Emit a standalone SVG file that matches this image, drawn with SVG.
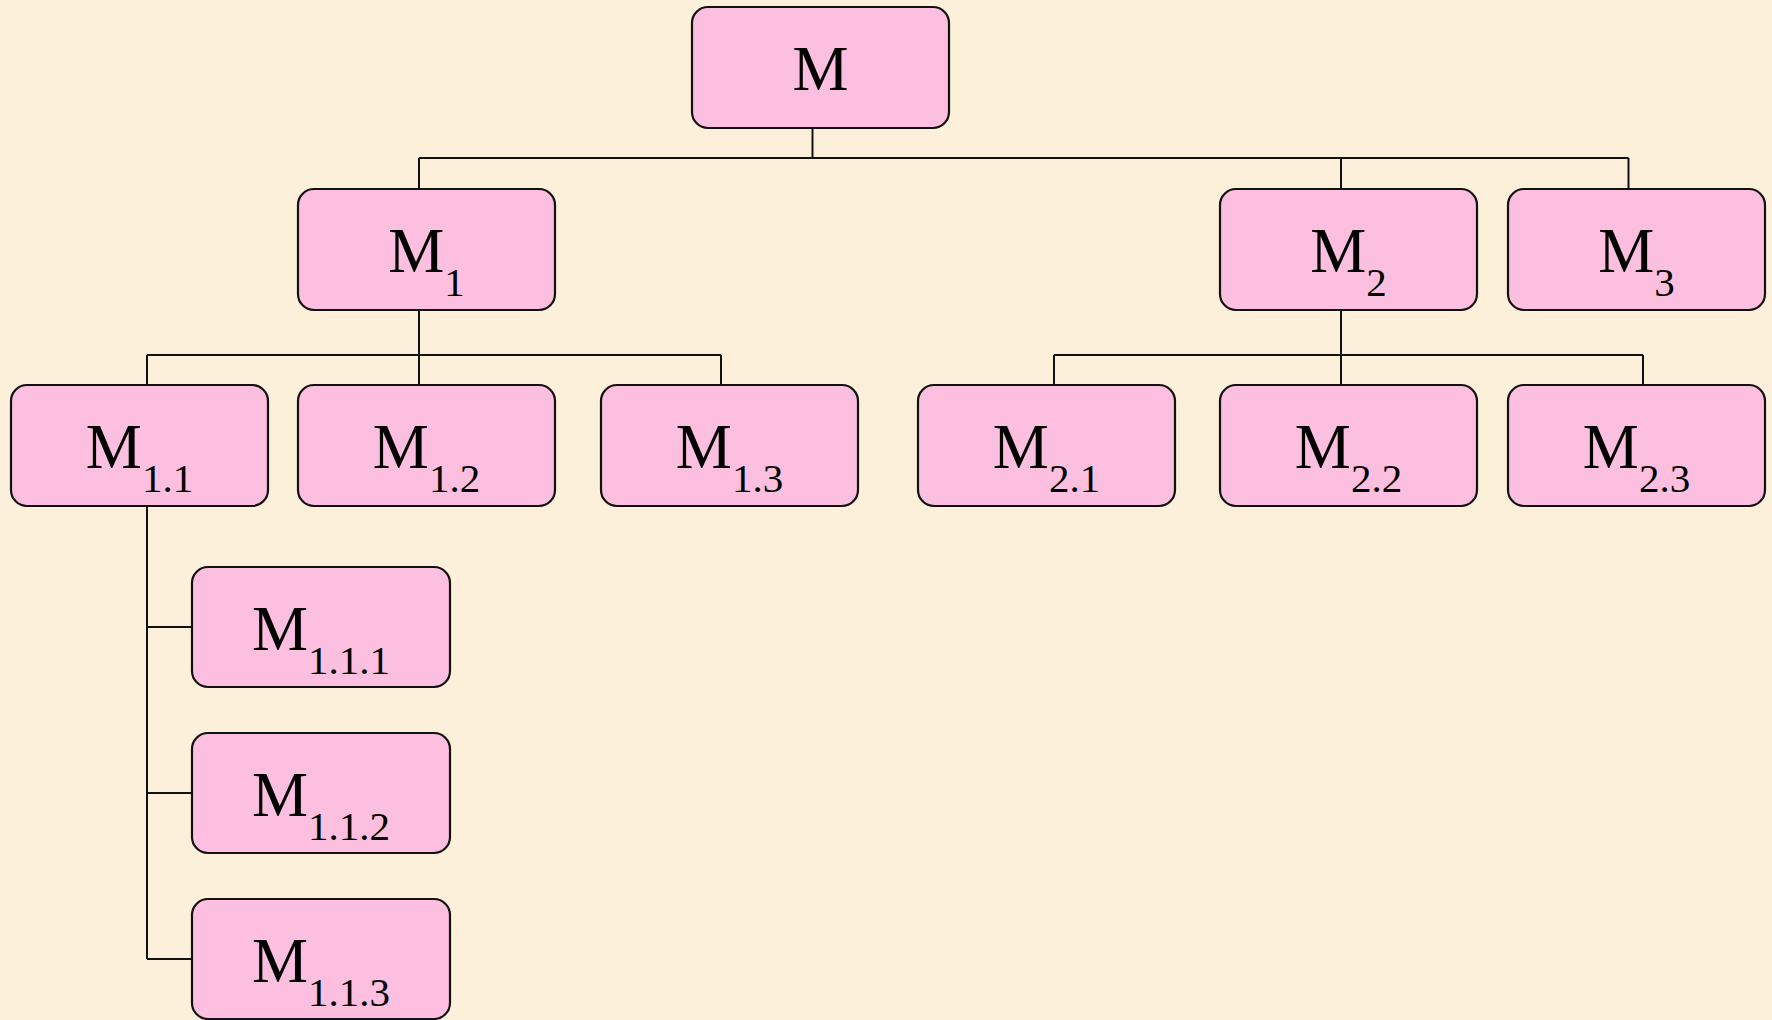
<svg xmlns="http://www.w3.org/2000/svg" width="1772" height="1020" viewBox="0 0 1772 1020">
<style>
.box{fill:#FDBFDF;stroke:#111;stroke-width:2.2}
.lbl{font-family:"Liberation Serif","Times New Roman",serif;font-size:63px;fill:#000;text-anchor:middle}
.sub{font-size:41px}
.con{fill:none;stroke:#111;stroke-width:2}
</style>
<rect width="1772" height="1020" fill="#FCF0DA"/>
<g id="connectors" class="con">
<path d="M812.5 128V158M419 158H1628.5M419 158V189M1341 158V189M1628.5 158V189"/>
<path d="M419 310V355M147 355H721M147 355V385M419 355V385M721 355V385"/>
<path d="M1341 310V355M1054 355H1643M1054 355V385M1341 355V385M1643 355V385"/>
<path d="M147 506V959M147 627H192M147 793H192M147 959H192"/>
</g>
<g id="M"><rect class="box" x="692" y="7" width="257" height="121" rx="16"/><text class="lbl" x="820.5" y="90">M</text></g>
<g id="M1"><rect class="box" x="298" y="189" width="257" height="121" rx="16"/><text class="lbl" x="426.5" y="272">M<tspan class="sub" dy="24">1</tspan></text></g>
<g id="M2"><rect class="box" x="1220" y="189" width="257" height="121" rx="16"/><text class="lbl" x="1348.5" y="272">M<tspan class="sub" dy="24">2</tspan></text></g>
<g id="M3"><rect class="box" x="1508" y="189" width="257" height="121" rx="16"/><text class="lbl" x="1636.5" y="272">M<tspan class="sub" dy="24">3</tspan></text></g>
<g id="M1.1"><rect class="box" x="11" y="385" width="257" height="121" rx="16"/><text class="lbl" x="139.5" y="468">M<tspan class="sub" dy="24">1.1</tspan></text></g>
<g id="M1.2"><rect class="box" x="298" y="385" width="257" height="121" rx="16"/><text class="lbl" x="426.5" y="468">M<tspan class="sub" dy="24">1.2</tspan></text></g>
<g id="M1.3"><rect class="box" x="601" y="385" width="257" height="121" rx="16"/><text class="lbl" x="729.5" y="468">M<tspan class="sub" dy="24">1.3</tspan></text></g>
<g id="M2.1"><rect class="box" x="918" y="385" width="257" height="121" rx="16"/><text class="lbl" x="1046.5" y="468">M<tspan class="sub" dy="24">2.1</tspan></text></g>
<g id="M2.2"><rect class="box" x="1220" y="385" width="257" height="121" rx="16"/><text class="lbl" x="1348.5" y="468">M<tspan class="sub" dy="24">2.2</tspan></text></g>
<g id="M2.3"><rect class="box" x="1508" y="385" width="257" height="121" rx="16"/><text class="lbl" x="1636.5" y="468">M<tspan class="sub" dy="24">2.3</tspan></text></g>
<g id="M1.1.1"><rect class="box" x="192" y="567" width="258" height="120" rx="16"/><text class="lbl" x="321" y="650">M<tspan class="sub" dy="24">1.1.1</tspan></text></g>
<g id="M1.1.2"><rect class="box" x="192" y="733" width="258" height="120" rx="16"/><text class="lbl" x="321" y="816">M<tspan class="sub" dy="24">1.1.2</tspan></text></g>
<g id="M1.1.3"><rect class="box" x="192" y="899" width="258" height="120" rx="16"/><text class="lbl" x="321" y="982">M<tspan class="sub" dy="24">1.1.3</tspan></text></g>
</svg>
